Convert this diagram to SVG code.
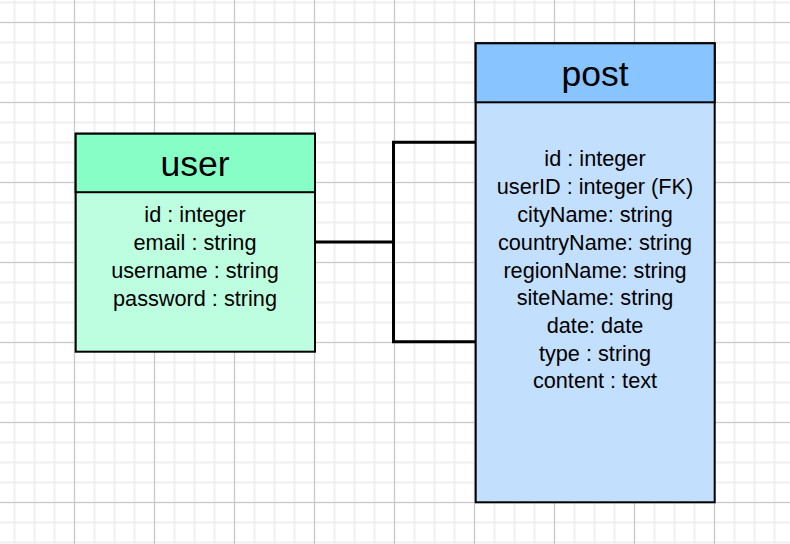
<svg xmlns="http://www.w3.org/2000/svg" width="790" height="544" viewBox="0 0 790 544">
  <style>
    .frame { stroke: #000; stroke-width: 2; }
    .title { font-family: "Liberation Sans", Arial, sans-serif; font-size: 35.5px; fill: #000; text-anchor: middle; }
    .attr { font-family: "Liberation Sans", Arial, sans-serif; font-size: 21.7px; fill: #000; text-anchor: middle; }
    .conn { fill: none; stroke: #000; stroke-width: 3; stroke-linejoin: miter; stroke-linecap: butt; }
  </style>
  <defs>
    <pattern id="minor" patternUnits="userSpaceOnUse" x="0" y="0" width="20" height="20">
      <path d="M14.5 0 V20 M0 2.5 H20" stroke="#efefef" stroke-width="2" fill="none"/>
    </pattern>
    <pattern id="major" patternUnits="userSpaceOnUse" x="0" y="0" width="80" height="80">
      <path d="M74.5 0 V80 M0 22.5 H80" stroke="#c8c8c8" stroke-width="1" fill="none"/>
    </pattern>
  </defs>
  <rect x="0" y="0" width="790" height="544" fill="#ffffff"/>
  <rect x="0" y="0" width="790" height="544" fill="url(#minor)"/>
  <rect x="0" y="0" width="790" height="544" fill="url(#major)"/>

  <g id="connectors">
    <path class="conn" d="M315 242 H393.5"/>
    <path class="conn" d="M475 142.2 H393.5 V341.7 H475"/>
  </g>

  <g id="user">
    <rect x="75.7" y="133.7" width="239.3" height="218" fill="#bdfde0" class="frame"/>
    <rect x="75.7" y="133.7" width="239.3" height="58.5" fill="#86fec6" class="frame"/>
    <text class="title" x="195" y="176">user</text>
    <text class="attr" x="195" y="222">id : integer</text>
    <text class="attr" x="195" y="250">email : string</text>
    <text class="attr" x="195" y="278">username : string</text>
    <text class="attr" x="195" y="306">password : string</text>
  </g>

  <g id="post">
    <rect x="475.7" y="43.3" width="239" height="459" fill="#c2dffe" class="frame"/>
    <rect x="475.7" y="43.3" width="239" height="59" fill="#88c4ff" class="frame"/>
    <text class="title" x="595" y="86">post</text>
    <text class="attr" x="595" y="166">id : integer</text>
    <text class="attr" x="595" y="194">userID : integer (FK)</text>
    <text class="attr" x="595" y="222">cityName: string</text>
    <text class="attr" x="595" y="249.5">countryName: string</text>
    <text class="attr" x="595" y="277.5">regionName: string</text>
    <text class="attr" x="595" y="305">siteName: string</text>
    <text class="attr" x="595" y="333">date: date</text>
    <text class="attr" x="595" y="360.5">type : string</text>
    <text class="attr" x="595" y="388">content : text</text>
  </g>
</svg>
